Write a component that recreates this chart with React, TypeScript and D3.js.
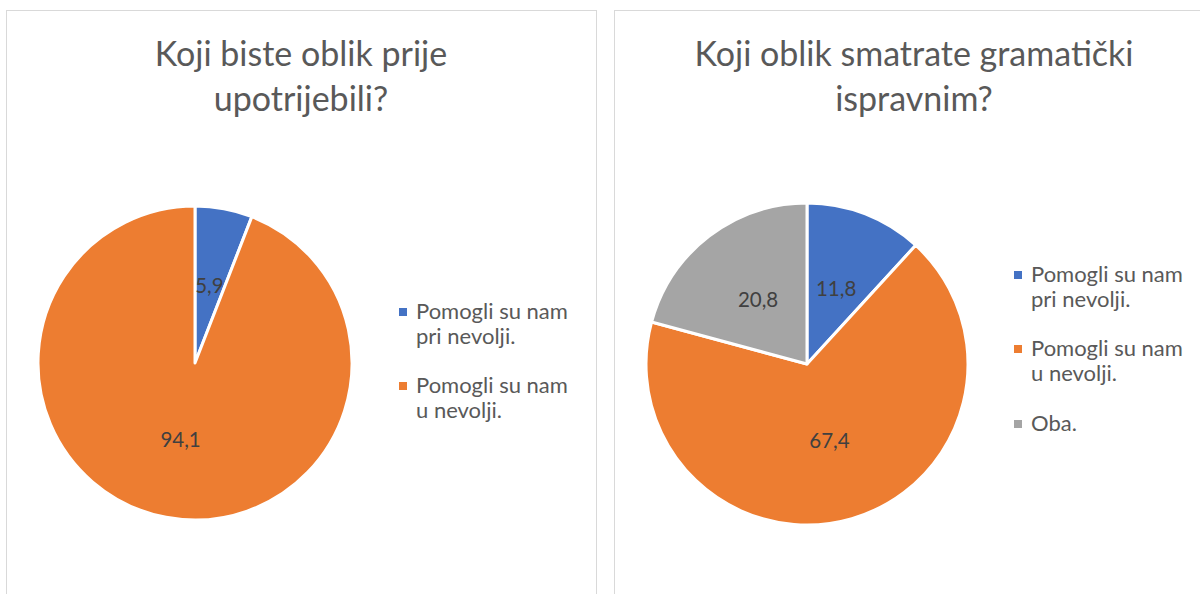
import React from "react";
import * as d3 from "d3";

const leftCategories = ["Pomogli su nam pri nevolji.", "Pomogli su nam u nevolji."];
const leftValues = [5.9, 94.1];
const leftLabels = ["5,9", "94,1"];
const leftTitle = ["Koji biste oblik prije", "upotrijebili?"];

const rightCategories = ["Pomogli su nam pri nevolji.", "Pomogli su nam u nevolji.", "Oba."];
const rightValues = [11.8, 67.4, 20.8];
const rightLabels = ["11,8", "67,4", "20,8"];
const rightTitle = ["Koji oblik smatrate gramatički", "ispravnim?"];

const legendLines = [["Pomogli su nam", "pri nevolji."], ["Pomogli su nam", "u nevolji."], ["Oba."]];
const colors = ["#4472C4", "#ED7D31", "#A5A5A5"];

const FONT = "Lato, 'Open Sans', sans-serif";

type PanelProps = {
  x: number;
  w: number;
  title: string[];
  values: number[];
  labels: string[];
  cx: number;
  cy: number;
  r: number;
  legendX: number;
  legendY: number[];
};

function Panel({ x, w, title, values, labels, cx, cy, r, legendX, legendY }: PanelProps) {
  const pie = d3.pie<number>().sort(null).value((d) => d);
  const arcs = pie(values);
  const arc = d3.arc<d3.PieArcDatum<number>>().innerRadius(0).outerRadius(r);
  const labelArc = d3.arc<d3.PieArcDatum<number>>().innerRadius(r * 0.5).outerRadius(r * 0.5);
  const tx = x + w / 2;
  return (
    <g>
      <rect x={x + 0.5} y={10.5} width={w} height={700} fill="#fff" stroke="#D9D9D9" strokeWidth={1} />
      {title.map((t, i) => (
        <text key={i} x={tx} y={66 + i * 45} textAnchor="middle" fontFamily={FONT} fontSize={34} fill="#595959">
          {t}
        </text>
      ))}
      <g transform={`translate(${cx},${cy})`}>
        {arcs.map((a, i) => (
          <path key={i} d={arc(a) || ""} fill={colors[i]} stroke="#fff" strokeWidth={3} strokeLinejoin="round" />
        ))}
        {arcs.map((a, i) => {
          const [lx, ly] = labelArc.centroid(a);
          return (
            <text key={i} x={lx} y={ly} dy="0.35em" textAnchor="middle" fontFamily={FONT} fontSize={20.5} fill="#404040">
              {labels[i]}
            </text>
          );
        })}
      </g>
      {values.map((_, i) => (
        <g key={i}>
          <rect x={legendX} y={legendY[i] - 4} width={8} height={8} fill={colors[i]} />
          {legendLines[i].map((l, j) => (
            <text key={j} x={legendX + 17} y={legendY[i] + 7 + j * 25} fontFamily={FONT} fontSize={22} fill="#595959">
              {l}
            </text>
          ))}
        </g>
      ))}
    </g>
  );
}

export default function App() {
  return (
    <svg width={1200} height={594} style={{ position: "absolute", left: 0, top: 0 }}>
      <rect width={1200} height={594} fill="#fff" />
      <Panel
        x={6}
        w={590}
        title={leftTitle}
        values={leftValues}
        labels={leftLabels}
        cx={195}
        cy={363}
        r={157}
        legendX={399}
        legendY={[312, 386]}
      />
      <Panel
        x={614}
        w={600}
        title={rightTitle}
        values={rightValues}
        labels={rightLabels}
        cx={807}
        cy={364}
        r={161}
        legendX={1014}
        legendY={[275, 349, 424]}
      />
    </svg>
  );
}
